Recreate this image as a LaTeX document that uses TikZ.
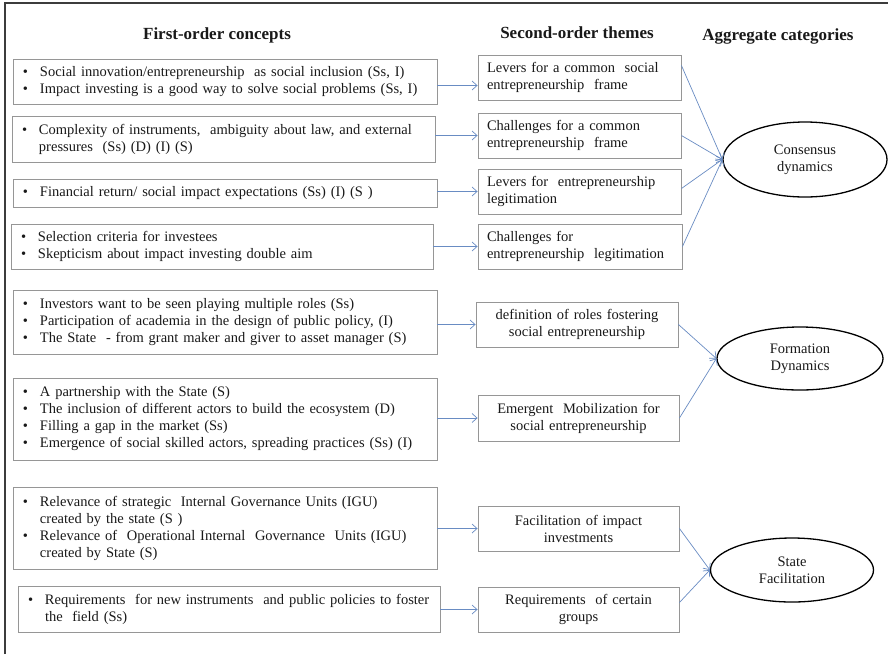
\documentclass[tikz,border=0pt]{standalone}
\usepackage{fontspec}
\setmainfont{Liberation Serif}
\usetikzlibrary{arrows.meta,shapes.geometric,calc}
\definecolor{boxgray}{RGB}{150,150,150}
\definecolor{arrowblue}{RGB}{105,140,195}
\definecolor{framecol}{RGB}{60,60,60}
\definecolor{txt}{RGB}{25,25,25}
\newcommand{\bpt}[1]{\makebox[17pt][l]{\textbullet}#1}
\newcommand{\bcont}[1]{\hspace*{17pt}#1}
\begin{document}
\begin{tikzpicture}[x=1pt,y=-1pt,
  every node/.style={text=txt},
  font=\fontsize{14.5}{17}\selectfont,
  fbox/.style={draw=boxgray, line width=0.9pt, rectangle, inner xsep=10pt, inner ysep=0pt, align=left},
  sboxl/.style={draw=boxgray, line width=0.9pt, rectangle, inner xsep=9pt, inner ysep=0pt, align=left, minimum height=45pt},
  sboxc/.style={draw=boxgray, line width=0.9pt, rectangle, inner xsep=6pt, inner ysep=0pt, align=center, minimum height=45pt},
  agg/.style={draw=black, line width=1.3pt, ellipse, inner sep=0pt, align=center},
  hdr/.style={font=\fontsize{17}{20}\selectfont\bfseries},
  arr/.style={draw=arrowblue, line width=0.7pt, -{Straight Barb[length=5pt,width=9pt,line width=0.7pt]}}
]
\useasboundingbox (0,0) rectangle (888,654);
\fill[white] (0,0) rectangle (888,654);
\draw[framecol, line width=2.2pt] (5,654) -- (5,3) -- (888,3);

% headers
\node[hdr] (h1) at (217,35) {First-order concepts};
\node[hdr] (h2) at (577,33) {Second-order themes};
\node[hdr] (h3) at (778,36) {Aggregate categories};

% first-order concept boxes
\node[fbox, text width=404pt, minimum height=45pt] (b1) at (225,81.5)
  {\bpt{Social innovation/entrepreneurship\ \ as social inclusion (Ss, I)}\\
   \bpt{Impact investing is a good way to solve social problems (Ss, I)}};
\node[fbox, text width=403pt, minimum height=46pt] (b2) at (223.5,139)
  {\bpt{Complexity of instruments,\ \ ambiguity\ about law, and external}\\
   \bcont{pressures\ \ (Ss) (D) (I) (S)}};
\node[fbox, text width=404pt, minimum height=28pt] (b3) at (225,193)
  {\bpt{Financial return/ social impact expectations (Ss) (I) (S )}};
\node[fbox, text width=402pt, minimum height=45pt] (b4) at (222,246.5)
  {\bpt{Selection criteria for investees}\\
   \bpt{Skepticism about impact investing double aim}};
\node[fbox, text width=404pt, minimum height=64pt] (b5) at (225,322)
  {\bpt{Investors want to be seen playing multiple roles (Ss)}\\
   \bpt{Participation of academia in the design of public policy, (I)}\\
   \bpt{The State\ \ - from grant maker and giver to asset manager\ (S)}};
\node[fbox, text width=404pt, minimum height=82pt] (b6) at (225,419)
  {\bpt{A partnership with the State (S)}\\
   \bpt{The inclusion of different actors to build the ecosystem (D)}\\
   \bpt{Filling a gap in the market (Ss)}\\
   \bpt{Emergence of social skilled actors, spreading practices (Ss) (I)}};
\node[fbox, text width=404pt, minimum height=82pt] (b7) at (225,528)
  {\bpt{Relevance of strategic\ \ Internal Governance Units (IGU)}\\
   \bcont{created by the state (S )}\\
   \bpt{Relevance of\ \ Operational Internal\ \ Governance\ \ Units (IGU)}\\
   \bcont{created by State (S)}};
\node[fbox, text width=402pt, minimum height=46pt] (b8) at (229,609)
  {\bpt{Requirements\ \ for new instruments\ \ and public policies to foster}\\
   \bcont{the\ \ field (Ss)}};

% second-order theme boxes
\node[sboxl, text width=185pt] (s1) at (579.5,77.5)
  {Levers for a common\ \ social\\ entrepreneurship\ \ frame};
\node[sboxl, text width=185pt] (s2) at (579.5,135.5)
  {Challenges\ for a common\\ entrepreneurship\ \ frame};
\node[sboxl, text width=185pt] (s3) at (579.5,191.5)
  {Levers for\ \ entrepreneurship\\ legitimation};
\node[sboxl, text width=186pt] (s4) at (580,246.5)
  {Challenges\ for\\ entrepreneurship\ \ legitimation};
\node[sboxc, text width=190pt] (s5) at (577,324.5)
  {definition\ of roles fostering\\ social entrepreneurship};
\node[sboxc, text width=189pt, minimum height=46pt] (s6) at (578.5,418)
  {Emergent\ \ Mobilization\ for\\ social entrepreneurship};
\node[sboxc, text width=189pt] (s7) at (578.5,528.5)
  {Facilitation of impact\\ investments};
\node[sboxc, text width=189pt] (s8) at (578.5,609.5)
  {Requirements\ \ of certain\\ groups};

% aggregate categories
\node[agg, minimum width=164pt, minimum height=75pt] (e1) at (805,159.5) {Consensus\\ dynamics};
\node[agg, minimum width=166pt, minimum height=63pt] (e2) at (800,358.5) {Formation\\ Dynamics};
\node[agg, minimum width=163pt, minimum height=64pt] (e3) at (792,570) {State\\ Facilitation};

% first -> second order
\coordinate (a1) at ($(s1.west)+(0,8)$);
\draw[arr] (b1.east |- a1) -- (a1);
\draw[arr] (b2.east |- s2.west) -- (s2.west);
\draw[arr] (b3.east |- s3.west) -- (s3.west);
\draw[arr] (b4.east |- s4.west) -- (s4.west);
\draw[arr] (b5.east |- s5.west) -- (s5.west);
\draw[arr] (b6.east |- s6.west) -- (s6.west);
\draw[arr] (b7.east |- s7.west) -- (s7.west);
\draw[arr] (b8.east |- s8.west) -- (s8.west);

% second order -> aggregate
\draw[arr] ($(s1.east)+(0,-12)$) -- (e1.west);
\draw[arr] (s2.east) -- (e1.west);
\draw[arr] ($(s3.east)+(0,-3)$) -- (e1.west);
\draw[arr] (s4.east) -- (e1.west);
\draw[arr] (s5.east) -- (e2.west);
\draw[arr] (s6.east) -- (e2.west);
\draw[arr] (s7.east) -- (e3.west);
\draw[arr] ($(s8.east)+(0,-7)$) -- (e3.west);
\end{tikzpicture}
\end{document}
